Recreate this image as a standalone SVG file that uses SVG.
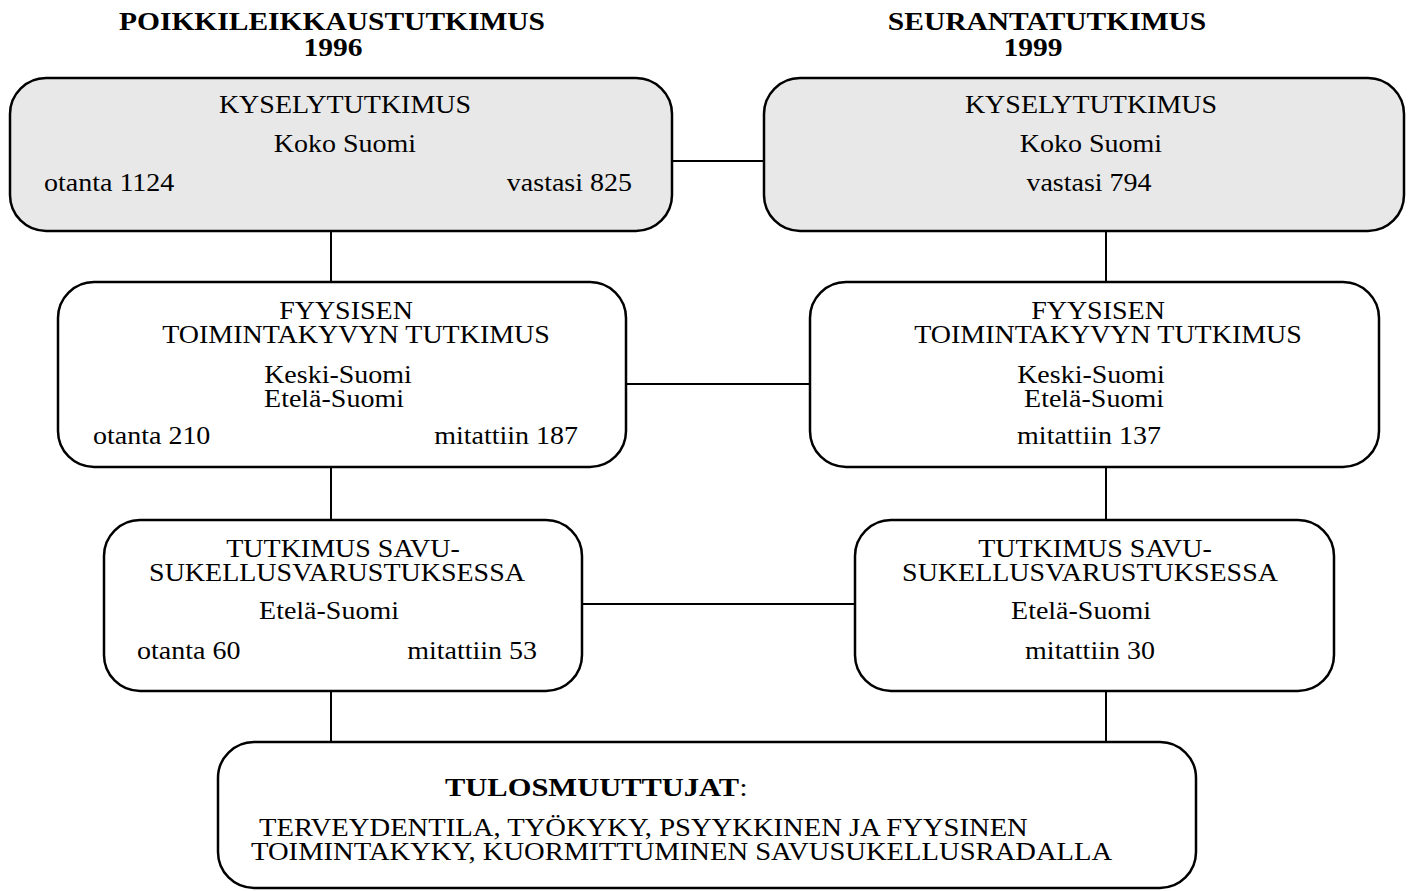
<svg xmlns="http://www.w3.org/2000/svg" width="1408" height="891" viewBox="0 0 1408 891">
<style>
.box{fill:#ffffff;stroke:#000;stroke-width:2.5}
.grey{fill:#e8e8e8}
.con{stroke:#000;stroke-width:2;fill:none}
text{font-family:"Liberation Serif","Times New Roman",serif;font-size:25px;fill:#000}
.b{font-weight:bold}
.m{text-anchor:middle}
.e{text-anchor:end}
.big{font-size:26px}
</style>
<rect width="1408" height="891" fill="#fff"/>
<g id="titles">
<text class="b m" transform="matrix(1.18 0 0 1 332 30)">POIKKILEIKKAUSTUTKIMUS</text>
<text class="b m" transform="matrix(1.18 0 0 1 333 56)">1996</text>
<text class="b m" transform="matrix(1.18 0 0 1 1047 30)">SEURANTATUTKIMUS</text>
<text class="b m" transform="matrix(1.18 0 0 1 1033 56)">1999</text>
</g>
<g id="connectors">
<line class="con" x1="672" y1="161" x2="764" y2="161"/>
<line class="con" x1="626" y1="384" x2="810" y2="384"/>
<line class="con" x1="582" y1="604" x2="855" y2="604"/>
<line class="con" x1="331" y1="231" x2="331" y2="282"/>
<line class="con" x1="331" y1="467" x2="331" y2="520"/>
<line class="con" x1="331" y1="691" x2="331" y2="742"/>
<line class="con" x1="1106" y1="231" x2="1106" y2="282"/>
<line class="con" x1="1106" y1="467" x2="1106" y2="520"/>
<line class="con" x1="1106" y1="691" x2="1106" y2="742"/>
</g>
<g id="kysely1996">
<rect class="box grey" x="10" y="78" width="662" height="153" rx="36" ry="36"/>
<text class="m" transform="matrix(1.12 0 0 1 345 113)">KYSELYTUTKIMUS</text>
<text class="m" transform="matrix(1.12 0 0 1 345 152)">Koko Suomi</text>
<text transform="matrix(1.12 0 0 1 44 191)">otanta 1124</text>
<text class="e" transform="matrix(1.12 0 0 1 632 191)">vastasi 825</text>
</g>
<g id="kysely1999">
<rect class="box grey" x="764" y="78" width="640" height="153" rx="36" ry="36"/>
<text class="m" transform="matrix(1.12 0 0 1 1091 113)">KYSELYTUTKIMUS</text>
<text class="m" transform="matrix(1.12 0 0 1 1091 152)">Koko Suomi</text>
<text class="m" transform="matrix(1.12 0 0 1 1089 191)">vastasi 794</text>
</g>
<g id="fyys1996">
<rect class="box" x="58" y="282" width="568" height="185" rx="36" ry="36"/>
<text class="m" transform="matrix(1.12 0 0 1 346 319)">FYYSISEN</text>
<text class="m" transform="matrix(1.12 0 0 1 356 343)">TOIMINTAKYVYN TUTKIMUS</text>
<text class="m" transform="matrix(1.12 0 0 1 338 383)">Keski-Suomi</text>
<text class="m" transform="matrix(1.12 0 0 1 334 407)">Etelä-Suomi</text>
<text transform="matrix(1.12 0 0 1 93 444)">otanta 210</text>
<text class="e" transform="matrix(1.12 0 0 1 578 444)">mitattiin 187</text>
</g>
<g id="fyys1999">
<rect class="box" x="810" y="282" width="569" height="185" rx="36" ry="36"/>
<text class="m" transform="matrix(1.12 0 0 1 1098 319)">FYYSISEN</text>
<text class="m" transform="matrix(1.12 0 0 1 1108 343)">TOIMINTAKYVYN TUTKIMUS</text>
<text class="m" transform="matrix(1.12 0 0 1 1091 383)">Keski-Suomi</text>
<text class="m" transform="matrix(1.12 0 0 1 1094 407)">Etelä-Suomi</text>
<text class="m" transform="matrix(1.12 0 0 1 1089 444)">mitattiin 137</text>
</g>
<g id="savu1996">
<rect class="box" x="104" y="520" width="478" height="171" rx="36" ry="36"/>
<text class="m" transform="matrix(1.12 0 0 1 343 557)">TUTKIMUS SAVU-</text>
<text class="m" transform="matrix(1.12 0 0 1 337 581)">SUKELLUSVARUSTUKSESSA</text>
<text class="m" transform="matrix(1.12 0 0 1 329 619)">Etelä-Suomi</text>
<text transform="matrix(1.12 0 0 1 137 659)">otanta 60</text>
<text class="e" transform="matrix(1.12 0 0 1 537 659)">mitattiin 53</text>
</g>
<g id="savu1999">
<rect class="box" x="855" y="520" width="479" height="171" rx="36" ry="36"/>
<text class="m" transform="matrix(1.12 0 0 1 1095 557)">TUTKIMUS SAVU-</text>
<text class="m" transform="matrix(1.12 0 0 1 1090 581)">SUKELLUSVARUSTUKSESSA</text>
<text class="m" transform="matrix(1.12 0 0 1 1081 619)">Etelä-Suomi</text>
<text class="m" transform="matrix(1.12 0 0 1 1090 659)">mitattiin 30</text>
</g>
<g id="tulosmuuttujat">
<rect class="box" x="218" y="742" width="978" height="146" rx="36" ry="36"/>
<text transform="matrix(1.22 0 0 1 445 796)"><tspan class="b">TULOSMUUTTUJAT</tspan>:</text>
<text class="big" transform="matrix(1.1 0 0 1 259 836)">TERVEYDENTILA, TYÖKYKY, PSYYKKINEN JA FYYSINEN</text>
<text class="big" transform="matrix(1.1 0 0 1 251 860)">TOIMINTAKYKY, KUORMITTUMINEN SAVUSUKELLUSRADALLA</text>
</g>
</svg>
